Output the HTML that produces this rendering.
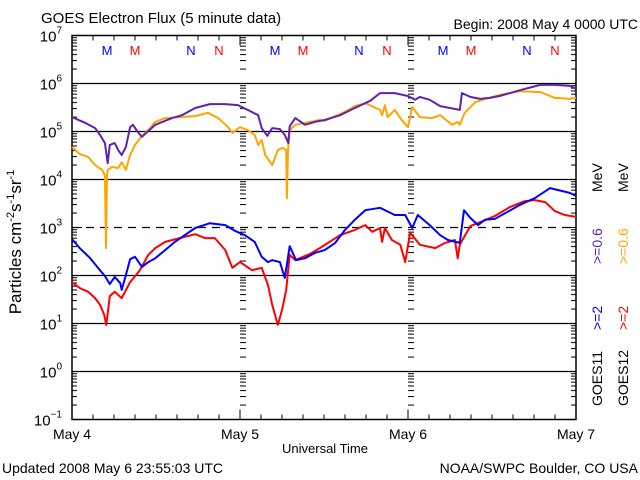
<!DOCTYPE html>
<html><head><meta charset="utf-8"><style>
html,body{margin:0;padding:0;background:#fff;}
svg{display:block;font-family:"Liberation Sans",sans-serif;}
</style></head><body>
<svg id="chart" width="640" height="480" viewBox="0 0 640 480" xmlns="http://www.w3.org/2000/svg">
<rect width="640" height="480" fill="#fff"/>
<text x="41" y="23" font-size="15" fill="#000">GOES Electron Flux (5 minute data)</text>
<text x="638" y="29" font-size="14" text-anchor="end" fill="#000">Begin: 2008 May 4 0000 UTC</text>
<text x="2" y="473" font-size="14" fill="#000">Updated 2008 May  6 23:55:03 UTC</text>
<text x="638" y="473" font-size="14" text-anchor="end" fill="#000">NOAA/SWPC Boulder, CO USA</text>
<text x="325" y="453" font-size="13" text-anchor="middle" fill="#000">Universal Time</text>
<text transform="translate(21,242) rotate(-90)" font-size="17" text-anchor="middle" fill="#000">Particles cm<tspan font-size="11" dy="-7">-2</tspan><tspan dy="7">s</tspan><tspan font-size="11" dy="-7">-1</tspan><tspan dy="7">sr</tspan><tspan font-size="11" dy="-7">-1</tspan></text>
<g font-size="14">
<text transform="translate(602,406) rotate(-90)" fill="#000">GOES11</text>
<text transform="translate(602,330) rotate(-90)" fill="#0000ff">&gt;=2</text>
<text transform="translate(602,264) rotate(-90)" fill="#6020b0">&gt;=0.6</text>
<text transform="translate(602,192) rotate(-90)" fill="#000">MeV</text>
</g>
<g font-size="14">
<text transform="translate(628,406) rotate(-90)" fill="#000">GOES12</text>
<text transform="translate(628,330) rotate(-90)" fill="#ff0000">&gt;=2</text>
<text transform="translate(628,264) rotate(-90)" fill="#ffa500">&gt;=0.6</text>
<text transform="translate(628,192) rotate(-90)" fill="#000">MeV</text>
</g>
<g id="axes"></g>
<g id="series"></g>
</svg>
<script>
const xTickLabels = ["May 4","May 5","May 6","May 7"];
const yTickExps = [7,6,5,4,3,2,1,0,-1];
const markers = [
 {h:5,t:"M",c:"#0000ff"},{h:9,t:"M",c:"#ff0000"},{h:17,t:"N",c:"#0000ff"},{h:21,t:"N",c:"#ff0000"},
 {h:29,t:"M",c:"#0000ff"},{h:33,t:"M",c:"#ff0000"},{h:41,t:"N",c:"#0000ff"},{h:45,t:"N",c:"#ff0000"},
 {h:53,t:"M",c:"#0000ff"},{h:57,t:"M",c:"#ff0000"},{h:65,t:"N",c:"#0000ff"},{h:69,t:"N",c:"#ff0000"}];
// hours since May 4 00:00 and log10 flux
const g11LowH = [0,1.9,3.3,4,4.7,5.1,5.4,6.1,6.6,7.1,7.7,8.3,8.7,9.4,10,10.9,11.9,12.9,14.3,15.7,17.6,19.7,21.9,23.7,25.1,26.6,27.1,27.9,28.6,29.7,30.4,30.9,31.1,31.9,33.3,34.7,36.1,38.3,40.4,42.6,44,46.1,48,49,49.7,51.1,52.6,54,55.4,55.7,56.9,58.3,59.7,61.1,64,66.9,69,71.1,72];
const g11LowLog = [5.30,5.18,5.07,4.93,4.76,4.34,4.72,4.76,4.61,4.51,4.68,5.09,5.14,4.99,4.89,5.01,5.14,5.20,5.28,5.34,5.49,5.57,5.57,5.55,5.45,5.34,5.07,4.91,5.07,5.05,4.93,4.76,5.11,5.28,5.14,5.20,5.24,5.34,5.49,5.64,5.80,5.80,5.74,5.66,5.72,5.66,5.53,5.49,5.45,5.80,5.72,5.68,5.70,5.74,5.86,5.97,5.97,5.95,5.89];
const g12LowH = [0,1.1,2.3,3.3,4.3,4.7,4.86,5.0,5.1,5.7,6.6,7.1,7.7,8.3,9,10,10.9,11.9,13.3,15.4,17.6,19.4,20.9,22.3,22.9,24,25.1,26.1,26.6,27.1,27.6,28.6,29.4,30.1,30.6,30.7,30.86,31.1,31.9,34,35.4,36.1,37.6,39,40.4,41.9,44,44.3,44.7,45.1,46.1,47.1,48,48.6,49.7,51.4,52.6,54.3,55.1,55.4,56.1,57.6,59,61.1,64,66.9,69,71.1,72];
const g12LowLog = [4.68,4.53,4.47,4.30,4.20,4.09,2.57,4.09,4.20,4.26,4.24,4.36,4.20,4.51,4.72,4.91,5.03,5.20,5.28,5.30,5.32,5.39,5.28,5.09,4.97,5.09,5.03,4.93,4.72,4.82,4.51,4.30,4.61,4.66,4.61,3.61,4.61,5.03,5.14,5.20,5.24,5.22,5.32,5.41,5.53,5.59,5.45,5.34,5.55,5.30,5.45,5.24,5.09,5.51,5.30,5.28,5.34,5.14,5.20,5.14,5.39,5.61,5.68,5.76,5.84,5.82,5.70,5.68,5.70];
const g11HighH = [0,1.1,2.6,4,4.7,5.4,6.1,6.9,7.1,7.7,8.3,9,10,10.9,11.9,13.3,14.7,16.1,17.6,19.7,21.9,23.3,24.7,26.1,27.1,28,28.6,29.7,30.4,31.1,32,33.3,34.7,36.1,37.6,39,40.4,41.9,44,46.1,47.6,48.6,49.4,51.1,52.6,53.7,55.4,56,56.9,58,59,60.4,61.9,64,66.1,68.3,71.1,72];
const g11HighLog = [2.76,2.57,2.36,2.11,1.99,1.82,1.97,1.84,1.70,2.01,2.34,2.39,2.18,2.28,2.36,2.53,2.70,2.84,2.99,3.09,3.05,2.93,2.84,2.70,2.39,2.28,2.32,2.28,1.95,2.61,2.32,2.36,2.47,2.53,2.68,2.95,3.16,3.36,3.41,3.26,3.26,2.99,3.26,3.05,2.84,2.74,2.68,3.36,3.20,3.05,3.16,3.18,3.30,3.47,3.61,3.82,3.72,3.66];
const g12HighH = [0,1.1,2.3,3.3,4,4.6,4.9,5.4,6.1,7.1,8.3,9.7,10.9,11.9,13.3,15.4,17.6,19,20.4,21.9,22.9,24,25.7,27.1,28,28.6,29,29.4,30,30.6,31.1,31.9,34,35.4,38.3,40.4,41.9,42.9,44,44.3,44.7,45.7,46.9,47.6,48.3,49.7,51.9,53.3,54.7,55.1,55.4,56.9,58.3,60.4,62.6,64.7,66.1,67.6,69,70.4,72];
const g12HighLog = [1.86,1.74,1.66,1.53,1.39,1.18,0.97,1.57,1.66,1.53,1.86,2.11,2.43,2.57,2.70,2.78,2.86,2.78,2.78,2.53,2.16,2.28,2.11,2.16,1.80,1.39,1.18,0.97,1.28,1.70,2.43,2.32,2.45,2.57,2.84,2.95,3.05,2.91,2.99,2.70,2.99,2.74,2.64,2.28,2.89,2.64,2.57,2.68,2.74,2.36,2.64,3.03,3.11,3.24,3.43,3.55,3.57,3.53,3.34,3.26,3.22];

const NS="http://www.w3.org/2000/svg";
const L=72,R=576,T=35.5,B=419.5;
const xS=h=>L+(R-L)*h/72;
const yS=lg=>T+(7-lg)*(B-T)/8;
const axes=document.getElementById('axes'), ser=document.getElementById('series');
function mk(tag,attrs,parent){const e=document.createElementNS(NS,tag);for(const k in attrs)e.setAttribute(k,attrs[k]);parent.appendChild(e);return e;}
const fr=mk('rect',{x:L,y:T,width:R-L,height:B-T,fill:'none',stroke:'#000','stroke-width':1.5},axes);


yTickExps.forEach(e=>{
  if(e===7||e===-1)return;
  const y=yS(e);
  const ln=mk('line',{x1:L,x2:R,y1:y,y2:y,stroke:'#000','stroke-width':1.3},axes);
  if(e===3)ln.setAttribute('stroke-dasharray','8,6');
  
  
});
yTickExps.forEach(e=>{
  const t=mk('text',{x:62,y:yS(e)+6,'font-size':15,'text-anchor':'end',fill:'#000'},axes);
  t.textContent='10';
  const s=mk('tspan',{dy:-8,'font-size':10},t);s.textContent=String(e).replace('-','\u2212');
  
  
});
const tickCols=[{x:L,d:1},{x:R,d:-1},{x:xS(24),d:1},{x:xS(48),d:1}];
for(let e=-1;e<7;e++){for(let m=1;m<=9;m++){
  const y=yS(e+Math.log10(m));
  tickCols.forEach(c=>{
    const major=(m===1);
    const ln=major?10:5;
    const tk=mk('line',{x1:c.x,x2:c.x+c.d*(c.x===L||c.x===R?ln:6),y1:y,y2:y,stroke:'#000','stroke-width':1},axes);
    
    
  });
}}
for(let h=0;h<=72;h+=3){
  const x=xS(h);const major=h%24===0;const ln=major?10:5;
  const a=mk('line',{x1:x,x2:x,y1:B,y2:B-ln,stroke:'#000','stroke-width':1},axes);
  
  
  const b=mk('line',{x1:x,x2:x,y1:T,y2:T+ln,stroke:'#000','stroke-width':1},axes);
  
  
}
xTickLabels.forEach((s,i)=>{
  const t=mk('text',{x:xS(i*24),y:439,'font-size':14,'text-anchor':'middle',fill:'#000'},axes);
  t.textContent=s;
  
  
});
markers.forEach(m=>{
  const t=mk('text',{x:xS(m.h),y:55,'font-size':13,'text-anchor':'middle',fill:m.c},axes);
  t.textContent=m.t;
  
  
});
function line(hs,ls,color,name){
  const pts=hs.map((h,i)=>xS(h).toFixed(1)+','+yS(ls[i]).toFixed(1)).join(' ');
  const p=mk('polyline',{points:pts,fill:'none',stroke:color,'stroke-width':2,'stroke-linejoin':'round'},ser);
  
  
}
line(g12LowH,g12LowLog,'#ffa500','goes12-0.6mev-line');
line(g11LowH,g11LowLog,'#6020b0','goes11-0.6mev-line');
line(g12HighH,g12HighLog,'#ff0000','goes12-2mev-line');
line(g11HighH,g11HighLog,'#0000ff','goes11-2mev-line');
</script>
</body></html>
